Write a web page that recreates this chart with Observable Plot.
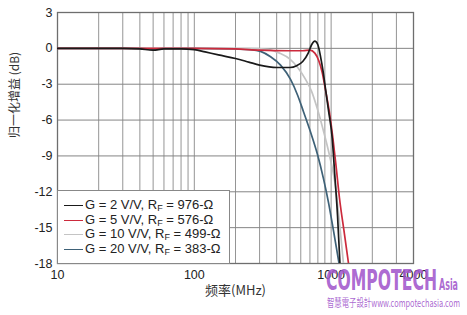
<!DOCTYPE html>
<html>
<head>
<meta charset="utf-8">
<script src="https://cdn.jsdelivr.net/npm/d3@7"></script>
<script src="https://cdn.jsdelivr.net/npm/@observablehq/plot@0.6"></script>
<style>
  html, body { margin: 0; padding: 0; background: #fff; }
  #wrap { position: relative; width: 467px; height: 315px; overflow: hidden; font-family: "Liberation Sans", Arial, sans-serif; }
  #legend { position: absolute; left: 57px; top: 190px; width: 171px; height: 72px; background: #fff; border: 1px solid #888; box-sizing: content-box; }
  .item { position: absolute; left: 0; height: 14px; font-size: 13px; color: #222; white-space: nowrap; }
  .sw { position: absolute; left: 6px; top: 7px; width: 19px; height: 0; border-top: 1.7px solid; }
  .lab { position: absolute; left: 27px; top: 0; line-height: 14px; }
  .lab sub { font-size: 9px; vertical-align: -2px; }
  #wm { position: absolute; left: 0; top: 0; pointer-events: none; }
</style>
</head>
<body>
<div id="wrap"></div>
<script>
// ---- data ----
const seriesNames = ["G = 2 V/V, R_F = 976-Ω", "G = 5 V/V, R_F = 576-Ω", "G = 10 V/V, R_F = 499-Ω", "G = 20 V/V, R_F = 383-Ω"];
const seriesColors = ["#1a1a1a", "#cc2a3c", "#c4c4c4", "#3e6177"];

const g2Freq = [10, 30, 40, 50, 60, 80, 100, 120, 150, 200, 250, 300, 400, 500, 560, 620, 680, 720, 760, 800, 840, 870, 910, 957, 1018, 1062, 1114, 1160];
const g2Gain = [0, 0, -0.05, -0.15, -0.05, -0.05, -0.1, -0.3, -0.55, -0.85, -1.15, -1.4, -1.6, -1.6, -1.45, -1.1, -0.4, 0.3, 0.6, 0.3, -0.8, -1.8, -3.4, -5.2, -7.5, -10.5, -14, -18];

const g5Freq = [10, 100, 200, 300, 500, 620, 700, 760, 810, 860, 910, 970, 1030, 1090, 1150, 1250, 1340];
const g5Gain = [0, 0, -0.05, -0.15, -0.2, -0.2, -0.15, -0.4, -1.0, -2.0, -3.5, -5.3, -7.5, -10, -12.5, -15.5, -18];

const g10Freq = [10, 100, 250, 350, 420, 500, 570, 650, 720, 790, 860, 966, 1068, 1150, 1230];
const g10Gain = [0, 0, 0, -0.1, -0.4, -0.9, -1.6, -2.6, -3.6, -5.0, -6.5, -8.8, -11.3, -14.5, -18];

const g20Freq = [10, 40, 50, 60, 100, 200, 258, 305, 361, 427, 505, 568, 628, 707, 796, 879, 957, 1042, 1143];
const g20Gain = [0, 0, -0.1, 0, 0, -0.05, -0.1, -0.25, -0.7, -1.4, -2.6, -3.9, -5.3, -7.0, -8.9, -10.9, -12.9, -15.3, -18];

const xTicks = [10, 100, 1000, 4000];
const xGrid = [20, 30, 40, 50, 60, 70, 80, 90, 100, 200, 300, 400, 500, 600, 700, 800, 900, 1000, 2000, 3000];
const yTicks = [3, 0, -3, -6, -9, -12, -15, -18];
const yGrid = [0, -3, -6, -9, -12, -15];

const xLabel = "频率(MHz)";
const yLabel = "归一化增益 (dB)";

// ---- build ----
const allF = [g2Freq, g5Freq, g10Freq, g20Freq];
const allG = [g2Gain, g5Gain, g10Gain, g20Gain];
const rows = allF.map((fs, i) => fs.map((f, j) => ({f, db: allG[i][j], s: i})));

const lineMarks = [3, 2, 1, 0].map(i =>
  Plot.line(rows[i], {x: "f", y: "db", stroke: seriesColors[i], strokeWidth: 1.7, curve: "monotone-x", clip: true})
);

const chart = Plot.plot({
  width: 467,
  height: 315,
  marginLeft: 57,
  marginRight: 54,
  marginTop: 12,
  marginBottom: 52,
  style: {fontFamily: "'Liberation Sans', Arial, sans-serif", fontSize: "12.5px", color: "#222", background: "#fff"},
  x: {type: "log", domain: [10, 4000], ticks: xTicks, tickFormat: d => String(d), tickSize: 0, tickPadding: 7, label: null},
  y: {domain: [-18, 3], ticks: yTicks, tickFormat: d => String(d), tickSize: 0, tickPadding: 5, label: null},
  marks: [
    Plot.ruleX(xGrid, {stroke: "#959595", strokeWidth: 1}),
    Plot.ruleY(yGrid, {stroke: "#858585", strokeWidth: 1}),
    Plot.frame({stroke: "#6e6e6e", strokeWidth: 1.3}),
    ...lineMarks,
    Plot.text([xLabel], {frameAnchor: "bottom", dy: 31, fontSize: 13, fill: "#333", fontFamily: "'Noto Sans CJK SC', 'Liberation Sans', sans-serif"}),
    Plot.text([yLabel], {frameAnchor: "left", dx: -42, rotate: -90, fontSize: 12, fill: "#333", fontFamily: "'Noto Sans CJK SC', 'Liberation Sans', sans-serif"})
  ]
});

const wrap = document.getElementById("wrap");
wrap.appendChild(chart);

// legend
const legend = document.createElement("div");
legend.id = "legend";
seriesNames.forEach((name, i) => {
  const item = document.createElement("div");
  item.className = "item";
  item.style.top = (7 + i * 14.5) + "px";
  const sw = document.createElement("div");
  sw.className = "sw";
  sw.style.borderTopColor = seriesColors[i];
  const lab = document.createElement("span");
  lab.className = "lab";
  const parts = name.split("R_F");
  lab.innerHTML = parts[0] + "R<sub>F</sub>" + parts[1];
  item.appendChild(sw);
  item.appendChild(lab);
  legend.appendChild(item);
});
wrap.appendChild(legend);

// watermark
const NS = "http://www.w3.org/2000/svg";
const wm = document.createElementNS(NS, "svg");
wm.setAttribute("id", "wm");
wm.setAttribute("width", 467);
wm.setAttribute("height", 315);
function addText(str, x, y, size, len, weight, fam) {
  const t = document.createElementNS(NS, "text");
  t.setAttribute("x", x);
  t.setAttribute("y", y);
  t.setAttribute("font-size", size);
  t.setAttribute("font-weight", weight);
  t.setAttribute("font-family", fam);
  t.setAttribute("fill", "#a257cc");
  t.setAttribute("fill-opacity", "0.9");
  t.setAttribute("textLength", len);
  t.setAttribute("lengthAdjust", "spacingAndGlyphs");
  t.textContent = str;
  wm.appendChild(t);
}
addText("COMPOTECH", 326, 290, 28, 111, "bold", "'DejaVu Sans', sans-serif");
addText("Asia", 439, 290, 15, 19, "bold", "'DejaVu Sans', sans-serif");
addText("智慧電子設計www.compotechasia.com", 327, 307, 11, 133, "normal", "'Noto Sans CJK TC', sans-serif");
wrap.appendChild(wm);
</script>
</body>
</html>
